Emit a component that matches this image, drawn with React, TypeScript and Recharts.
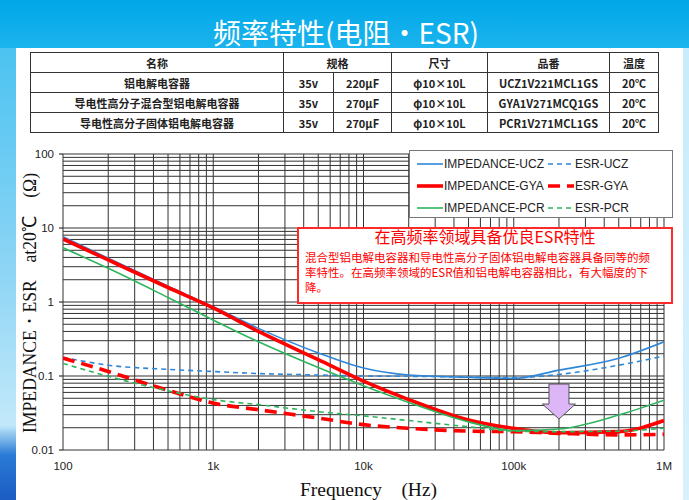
import React from "react";
import { LineChart, Line, XAxis, YAxis, CartesianGrid, Legend, ReferenceDot } from "recharts";

// frequency points (Hz) the curves were read at
const FREQS = [100, 200, 500, 1000, 2000, 5000, 10000, 20000, 50000, 100000, 200000, 500000, 1000000];

// impedance / ESR in ohms
const Z_UCZ = [7.6, 3.9, 1.63, 0.86, 0.44, 0.205, 0.128, 0.103, 0.096, 0.093, 0.12, 0.174, 0.29];
const ESR_UCZ = [0.179, 0.14, 0.123, 0.115, 0.108, 0.103, 0.1, 0.099, 0.097, 0.095, 0.105, 0.14, 0.186];
const Z_GYA = [7.1, 3.7, 1.57, 0.83, 0.4, 0.166, 0.085, 0.048, 0.0254, 0.0196, 0.0171, 0.0177, 0.025];
const ESR_GYA = [0.175, 0.115, 0.064, 0.043, 0.035, 0.027, 0.022, 0.0196, 0.018, 0.0177, 0.0168, 0.016, 0.0163];
const Z_PCR = [5.4, 2.85, 1.15, 0.57, 0.29, 0.13, 0.074, 0.044, 0.024, 0.0183, 0.0192, 0.0297, 0.047];
const ESR_PCR = [0.148, 0.099, 0.063, 0.048, 0.041, 0.033, 0.0289, 0.025, 0.0206, 0.018, 0.0177, 0.018, 0.0197];

// log grid ticks
const X_TICKS = [
  100, 200, 300, 400, 500, 600, 700, 800, 900,
  1000, 2000, 3000, 4000, 5000, 6000, 7000, 8000, 9000,
  10000, 20000, 30000, 40000, 50000, 60000, 70000, 80000, 90000,
  100000, 200000, 300000, 400000, 500000, 600000, 700000, 800000, 900000,
  1000000,
];
const Y_TICKS = [
  0.01, 0.02, 0.03, 0.04, 0.05, 0.06, 0.07, 0.08, 0.09,
  0.1, 0.2, 0.3, 0.4, 0.5, 0.6, 0.7, 0.8, 0.9,
  1, 2, 3, 4, 5, 6, 7, 8, 9,
  10, 20, 30, 40, 50, 60, 70, 80, 90,
  100,
];
const X_DECADES = [100, 1000, 10000, 100000, 1000000];
const X_DECADE_LABELS = ["100", "1k", "10k", "100k", "1M"];
const Y_DECADES = [0.01, 0.1, 1, 10, 100];
const Y_DECADE_LABELS = ["0.01", "0.1", "1", "10", "100"];

// arrow marker at the GYA/PCR minimum
const ARROW_FREQ = 200000;
const ARROW_TIP = 0.0262;

// spec table
const TABLE_HEAD = ["名称", "规格", "尺寸", "品番", "温度"];
const TABLE_NAMES = ["铝电解电容器", "导电性高分子混合型铝电解电容器", "导电性高分子固体铝电解电容器"];
const TABLE_VOLT = ["35v", "35v", "35v"];
const TABLE_CAP = ["220μF", "270μF", "270μF"];
const TABLE_SIZE = ["φ10×10L", "φ10×10L", "φ10×10L"];
const TABLE_PART = ["UCZ1V221MCL1GS", "GYA1V271MCQ1GS", "PCR1V271MCL1GS"];
const TABLE_TEMP = ["20℃", "20℃", "20℃"];

const NOTE_TITLE = "在高频率领域具备优良ESR特性";
const NOTE_LINES = [
  "混合型铝电解电容器和导电性高分子固体铝电解电容器具备同等的频",
  "率特性。在高频率领域的ESR值和铝电解电容器相比，有大幅度的下",
  "降。",
];

const BLUE = "#2f87d8";
const RED = "#ff0000";
const GREEN = "#2fb55e";

const SERIES = [
  { key: "zUcz", name: "IMPEDANCE-UCZ", color: BLUE, width: 1.6, dash: undefined },
  { key: "esrUcz", name: "ESR-UCZ", color: BLUE, width: 1.6, dash: "5 4" },
  { key: "zGya", name: "IMPEDANCE-GYA", color: RED, width: 3.6, dash: undefined },
  { key: "esrGya", name: "ESR-GYA", color: RED, width: 3.6, dash: "12 7" },
  { key: "zPcr", name: "IMPEDANCE-PCR", color: GREEN, width: 1.6, dash: undefined },
  { key: "esrPcr", name: "ESR-PCR", color: GREEN, width: 1.6, dash: "5 4" },
];

const data = FREQS.map((f, i) => ({
  f,
  zUcz: Z_UCZ[i],
  esrUcz: ESR_UCZ[i],
  zGya: Z_GYA[i],
  esrGya: ESR_GYA[i],
  zPcr: Z_PCR[i],
  esrPcr: ESR_PCR[i],
}));

const SANS = "Arial, 'Liberation Sans', sans-serif";
const CJK = "'Noto Sans CJK SC', sans-serif";

const XTick = (props: any) => {
  const { x, y, payload } = props;
  const idx = X_DECADES.indexOf(payload.value);
  if (idx < 0) return <g />;
  return (
    <text x={x} y={y + 20} textAnchor="middle" fontSize={11.5} fontFamily={SANS} fill="#222">
      {X_DECADE_LABELS[idx]}
    </text>
  );
};

const YTick = (props: any) => {
  const { x, y, payload } = props;
  const idx = Y_DECADES.findIndex((v) => Math.abs(v - payload.value) < 1e-9);
  if (idx < 0) return <g />;
  return (
    <g>
      <line x1={x - 4} x2={x} y1={y} y2={y} stroke="#333" strokeWidth={1.2} />
      <text x={x - 9} y={y + 4} textAnchor="end" fontSize={11.5} fontFamily={SANS} fill="#222">
        {Y_DECADE_LABELS[idx]}
      </text>
    </g>
  );
};

const XTitle = ({ viewBox }: any) => (
  <text
    x={viewBox.x + viewBox.width / 2 + 5}
    y={viewBox.y + 46}
    textAnchor="middle"
    fontFamily="'Liberation Serif', serif"
    fontSize={19}
    fill="#111"
    textLength={137}
    lengthAdjust="spacingAndGlyphs"
  >
    Frequency　(Hz)
  </text>
);

const YTitle = ({ viewBox }: any) => {
  const cx = viewBox.x + 33;
  const cy = viewBox.y + viewBox.height / 2 + 1;
  return (
    <text
      x={cx}
      y={cy}
      transform={`rotate(-90 ${cx} ${cy})`}
      textAnchor="middle"
      fontFamily="'Liberation Serif', serif"
      fontSize={19}
      fill="#111"
      textLength={260}
      lengthAdjust="spacingAndGlyphs"
    >
      IMPEDANCE・ESR　at20℃　(Ω)
    </text>
  );
};

const DownArrow = (props: any) => {
  const { cx, cy } = props;
  const pts = [
    [cx, cy],
    [cx - 16.5, cy - 15],
    [cx - 10, cy - 15],
    [cx - 10, cy - 35],
    [cx + 10, cy - 35],
    [cx + 10, cy - 15],
    [cx + 16.5, cy - 15],
  ]
    .map((p) => p.join(","))
    .join(" ");
  return <polygon points={pts} fill="#dcb6f7" stroke="#555" strokeWidth={1} />;
};

const LegendBox = () => (
  <div
    style={{
      width: 264,
      height: 68,
      boxSizing: "border-box",
      border: "1px solid #777",
      background: "#fff",
      paddingTop: 2,
      paddingLeft: 7,
      display: "grid",
      gridTemplateColumns: "131px 125px",
      gridAutoRows: "22px",
      fontFamily: SANS,
      fontSize: 12,
      color: "#222",
    }}
  >
    {SERIES.map((s) => (
      <div key={s.key} style={{ display: "flex", alignItems: "center" }}>
        <svg width={26} height={8} style={{ marginRight: 1 }}>
          <line x1={0} x2={26} y1={4} y2={4} stroke={s.color} strokeWidth={s.width} strokeDasharray={s.dash} />
        </svg>
        <span>{s.name}</span>
      </div>
    ))}
  </div>
);

const cell: React.CSSProperties = {
  border: "1.5px solid #333",
  textAlign: "center",
  padding: 0,
  height: 19,
  fontSize: 11,
  fontWeight: 700,
  color: "#222",
};

export default function App() {
  return (
    <div
      style={{
        position: "absolute",
        left: 0,
        top: 0,
        width: 689,
        height: 500,
        overflow: "hidden",
        background: "linear-gradient(to bottom, #3dbff0 0%, #8fd5f5 55%, #c2e9fa 85%, #2a7ad6 91%, #1b5cc2 100%)",
      }}
    >
      <div
        style={{
          position: "absolute",
          left: 0,
          top: 0,
          width: 689,
          height: 48,
          background: "linear-gradient(to bottom, #00a7e7 0%, #1cb4ee 100%)",
        }}
      />
      <div
        style={{
          position: "absolute",
          left: 683,
          top: 48,
          width: 6,
          height: 452,
          background: "linear-gradient(to bottom, #c8ecfb, #d8f1fc)",
        }}
      />
      <div style={{ position: "absolute", left: 16, top: 48, width: 667, height: 452, background: "#fff" }} />

      <div
        style={{
          position: "absolute",
          left: 0,
          top: 12,
          width: 692,
          textAlign: "center",
          fontFamily: CJK,
          fontSize: 28,
          lineHeight: "40px",
          color: "#fff",
        }}
      >
        频率特性(电阻・ESR)
      </div>

      <table
        style={{
          position: "absolute",
          left: 30,
          top: 52,
          width: 628,
          borderCollapse: "collapse",
          fontFamily: CJK,
          tableLayout: "fixed",
        }}
      >
        <colgroup>
          <col style={{ width: 253 }} />
          <col style={{ width: 50 }} />
          <col style={{ width: 58 }} />
          <col style={{ width: 96 }} />
          <col style={{ width: 122 }} />
          <col style={{ width: 49 }} />
        </colgroup>
        <tbody>
          <tr>
            <td style={cell}>{TABLE_HEAD[0]}</td>
            <td style={cell} colSpan={2}>{TABLE_HEAD[1]}</td>
            <td style={cell}>{TABLE_HEAD[2]}</td>
            <td style={cell}>{TABLE_HEAD[3]}</td>
            <td style={cell}>{TABLE_HEAD[4]}</td>
          </tr>
          {TABLE_NAMES.map((name, i) => (
            <tr key={name}>
              <td style={cell}>{name}</td>
              <td style={cell}>{TABLE_VOLT[i]}</td>
              <td style={cell}>{TABLE_CAP[i]}</td>
              <td style={cell}>{TABLE_SIZE[i]}</td>
              <td style={cell}>{TABLE_PART[i]}</td>
              <td style={cell}>{TABLE_TEMP[i]}</td>
            </tr>
          ))}
        </tbody>
      </table>

      <div style={{ position: "absolute", left: 0, top: 0 }}>
        <LineChart width={689} height={500} data={data} margin={{ top: 154, right: 25, bottom: 20, left: 3 }}>
          <CartesianGrid stroke="#333" strokeWidth={1} />
          <XAxis
            dataKey="f"
            type="number"
            scale="log"
            domain={[100, 1000000]}
            ticks={X_TICKS}
            interval={0}
            allowDataOverflow
            axisLine={false}
            tickLine={false}
            tickSize={0}
            tickMargin={0}
            height={30}
            tick={<XTick />}
            label={<XTitle />}
          />
          <YAxis
            type="number"
            scale="log"
            domain={[0.01, 100]}
            ticks={Y_TICKS}
            interval={0}
            allowDataOverflow
            axisLine={false}
            tickLine={false}
            tickSize={0}
            tickMargin={0}
            width={60}
            tick={<YTick />}
            label={<YTitle />}
          />
          {SERIES.map((s) => (
            <Line
              key={s.key}
              dataKey={s.key}
              name={s.name}
              type="monotone"
              stroke={s.color}
              strokeWidth={s.width}
              strokeDasharray={s.dash}
              dot={false}
              activeDot={false}
              isAnimationActive={false}
            />
          ))}
          <ReferenceDot x={ARROW_FREQ} y={ARROW_TIP} shape={<DownArrow />} />
          <Legend
            layout="horizontal"
            verticalAlign="middle"
            align="center"
            wrapperStyle={{ position: "absolute", left: 409, top: 150, width: 264 }}
            content={<LegendBox />}
          />
        </LineChart>
      </div>

      <div
        style={{
          position: "absolute",
          left: 297,
          top: 227,
          width: 376,
          height: 77,
          boxSizing: "border-box",
          border: "2px solid #ff2a2a",
          background: "#fff",
          color: "#ff0000",
          fontFamily: CJK,
        }}
      >
        <div style={{ textAlign: "center", fontSize: 16, lineHeight: "16px", marginTop: -1 }}>{NOTE_TITLE}</div>
        <div style={{ fontSize: 11.5, lineHeight: "15px", paddingLeft: 6, marginTop: 6, whiteSpace: "nowrap" }}>
          {NOTE_LINES.map((l) => (
            <div key={l}>{l}</div>
          ))}
        </div>
      </div>
    </div>
  );
}
